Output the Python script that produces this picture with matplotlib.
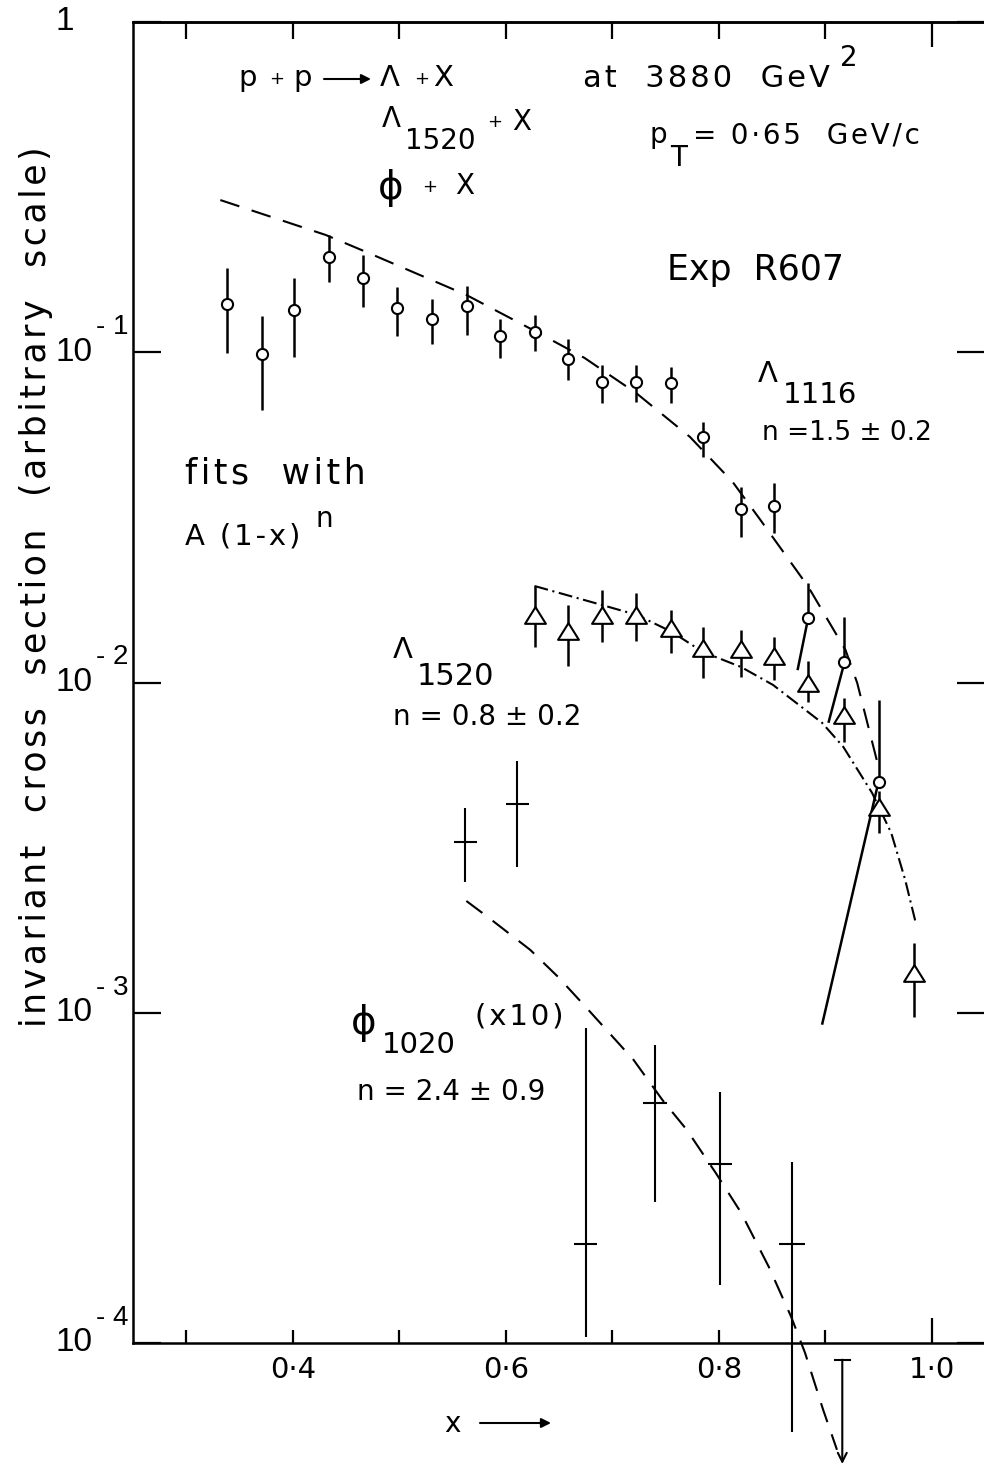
import matplotlib
matplotlib.use('Agg')
import matplotlib.pyplot as plt
from matplotlib.collections import LineCollection
from matplotlib.ticker import FixedLocator, FixedFormatter, NullLocator

W, H = 984, 1467

# Lambda(1116) + X, open circles
lam_x = [0.338, 0.371, 0.401, 0.434, 0.466, 0.498, 0.531, 0.564, 0.595, 0.627,
         0.658, 0.690, 0.722, 0.755, 0.785, 0.821, 0.852, 0.884, 0.918, 0.950]
lam_y = [0.140, 0.0988, 0.134, 0.194, 0.168, 0.136, 0.126, 0.138, 0.112, 0.115,
         0.0954, 0.0813, 0.0813, 0.0807, 0.0554, 0.0335, 0.0342, 0.0157, 0.0115, 0.0050]
lam_hi = [0.180, 0.129, 0.168, 0.227, 0.197, 0.158, 0.145, 0.159, 0.126, 0.130,
          0.110, 0.0915, 0.0915, 0.0904, 0.0616, 0.0392, 0.0401, 0.0200, 0.0158, 0.00886]
lam_lo = [0.0993, 0.0669, 0.0970, 0.1635, 0.1374, 0.1120, 0.1059, 0.1128, 0.0959, 0.1011,
          0.0824, 0.0701, 0.0709, 0.0701, 0.0483, 0.0276, 0.0283, 0.0109, 0.00755, 0.00092]
# x of the lower end of each bar (last three are drawn slanted in the original)
lam_lo_x = [0.338, 0.371, 0.401, 0.434, 0.466, 0.498, 0.531, 0.564, 0.595, 0.627,
            0.658, 0.690, 0.722, 0.755, 0.785, 0.821, 0.852, 0.874, 0.903, 0.897]

# Lambda(1520) + X, open triangles
l15_x = [0.627, 0.658, 0.690, 0.722, 0.755, 0.785, 0.821, 0.852, 0.884, 0.918, 0.950, 0.983]
l15_y = [0.0160, 0.0143, 0.0160, 0.0160, 0.0146, 0.0127, 0.0126, 0.0120, 0.0100, 0.0080, 0.0042, 0.00132]
l15_hi = [0.0196, 0.0172, 0.0191, 0.0187, 0.0166, 0.0147, 0.0144, 0.0137, 0.0116, 0.0090, 0.0047, 0.00163]
l15_lo = [0.0128, 0.0112, 0.0133, 0.0134, 0.0123, 0.0103, 0.0104, 0.0102, 0.0087, 0.0066, 0.0035, 0.00097]

# phi(1020) + X (x10), crosses
phi_x = [0.562, 0.611, 0.675, 0.740, 0.801, 0.869]
phi_dx = [0.011, 0.011, 0.011, 0.011, 0.011, 0.012]
phi_y = [0.00330, 0.00428, 0.000200, 0.000532, 0.000349, 0.000200]
phi_hi = [0.00417, 0.00579, 0.00090, 0.00080, 0.000576, 0.000354]
phi_lo = [0.00249, 0.00276, 0.000104, 0.000268, 0.000150, 0.0000538]
phi_lim_x = 0.916
phi_lim_top = 8.9e-5
phi_lim_tip = 4.3e-5

# fitted curves A(1-x)^n
fit1116_x = [0.332, 0.431, 0.469, 0.563, 0.629, 0.674, 0.723, 0.773, 0.813, 0.839,
             0.884, 0.919, 0.930, 0.950]
fit1116_y = [0.289, 0.2265, 0.2012, 0.1491, 0.1152, 0.0961, 0.0750, 0.0554, 0.0405, 0.0311,
             0.0195, 0.01255, 0.00997, 0.00555]
fit1520_x = [0.627, 0.690, 0.723, 0.756, 0.785, 0.821, 0.851, 0.897, 0.917, 0.944,
             0.962, 0.975, 0.985]
fit1520_y = [0.0196, 0.01718, 0.01602, 0.01423, 0.01238, 0.01114, 0.00983, 0.00755, 0.00638,
             0.00463, 0.0035, 0.00253, 0.00187]
fit1020_x = [0.563, 0.584, 0.623, 0.649, 0.675, 0.720, 0.747, 0.770, 0.797, 0.821,
             0.847, 0.868, 0.881, 0.898, 0.911]
fit1020_y = [0.00218, 0.00194, 0.00155, 0.001285, 0.001042, 0.00072, 0.000545, 0.000442,
             0.000328, 0.000248, 0.00017, 0.00012, 9.34e-5, 6.28e-5, 4.75e-5]

xt_minor = [0.3, 0.4, 0.5, 0.6, 0.7, 0.8, 0.9]
xt_minor_lab = ['', '0·4', '', '0·6', '', '0·8', '']
xt_major = [1.0]
xt_major_lab = ['1·0']
yt = [1e-4, 1e-3, 1e-2, 1e-1, 1]
yt_base = ['10', '10', '10', '10', '1']
yt_exp = ['- 4', '- 3', '- 2', '- 1', '']

plt.rcParams['font.family'] = ['DejaVu Sans']
lab_font = ['Liberation Sans', 'DejaVu Sans']


def spaced(s, n=1):
    return ('\u200a' * n).join(s)


fig = plt.figure(figsize=(W / 100, H / 100), dpi=100)
ax = fig.add_axes([133 / W, 124 / H, 852 / W, 1321 / H])
ax.set_yscale('log')
ax.set_xlim(0.25, 1.05)
ax.set_ylim(1e-4, 1)
for s in ax.spines.values():
    s.set_linewidth(1.8)

ax.yaxis.set_major_locator(FixedLocator(yt))
ax.yaxis.set_minor_locator(NullLocator())
ax.tick_params(axis='y', which='major', direction='in', length=20, width=1.6,
               left=True, right=True, labelleft=False)
ax.xaxis.set_major_locator(FixedLocator(xt_major))
ax.xaxis.set_minor_locator(FixedLocator(xt_minor))
ax.xaxis.set_major_formatter(FixedFormatter(xt_major_lab))
ax.xaxis.set_minor_formatter(FixedFormatter(xt_minor_lab))
ax.tick_params(axis='x', which='major', direction='in', length=18, width=1.6,
               top=False, labelsize=21, pad=9)
ax.tick_params(axis='x', which='minor', direction='in', length=9.5, width=1.6,
               top=False, labelsize=21, pad=9)

top = ax.secondary_xaxis('top')
top.xaxis.set_major_locator(FixedLocator(xt_major))
top.xaxis.set_minor_locator(FixedLocator(xt_minor))
top.tick_params(which='major', direction='in', length=18, width=1.6, labeltop=False)
top.tick_params(which='minor', direction='in', length=12, width=1.6, labeltop=False)
top.spines['top'].set_linewidth(1.8)

# y tick labels 10^-n drawn by hand so the exponent is as big as in the original
for v, b, e in zip(yt, yt_base, yt_exp):
    ax.annotate(b, xy=(0, v), xycoords=('axes fraction', 'data'), xytext=(-56, -6),
                textcoords='offset points', fontsize=24, family=lab_font,
                ha='left', va='baseline', annotation_clip=False)
    if e:
        ax.annotate(e, xy=(0, v), xycoords=('axes fraction', 'data'), xytext=(-27, 13),
                    textcoords='offset points', fontsize=20, family=lab_font,
                    ha='left', va='baseline', annotation_clip=False)

# fits
ax.plot(fit1116_x, fit1116_y, color='k', lw=1.5, ls=(0, (9.6, 6.2)))
ax.plot(fit1520_x, fit1520_y, color='k', lw=1.5, ls=(0, (6.7, 2.2, 1.0, 2.2)))
ax.plot(fit1020_x, fit1020_y, color='k', lw=1.5, ls=(0, (9.6, 6.2)), clip_on=False)

# Lambda(1116) bars and circles
segs = []
for x, y, hi, lo, xl in zip(lam_x, lam_y, lam_hi, lam_lo, lam_lo_x):
    segs.append([(x, y), (x, hi)])
    segs.append([(x, y), (xl, lo)])
ax.add_collection(LineCollection(segs, colors='k', linewidths=1.8, zorder=2))
ax.plot(lam_x, lam_y, 'o', ms=8, mfc='white', mec='k', mew=1.5, zorder=3)

# Lambda(1520) bars and triangles
tri = [(0, 0.8), (-1, -0.8), (1, -0.8), (0, 0.8)]
segs = [[(x, lo), (x, hi)] for x, lo, hi in zip(l15_x, l15_lo, l15_hi)]
ax.add_collection(LineCollection(segs, colors='k', linewidths=1.8, zorder=2))
ax.plot(l15_x, l15_y, ls='none', marker=tri, ms=15, mfc='white', mec='k', mew=1.5, zorder=4)

# phi(1020) crosses
segs = []
for x, dx, y, hi, lo in zip(phi_x, phi_dx, phi_y, phi_hi, phi_lo):
    segs.append([(x, lo), (x, hi)])
    segs.append([(x - dx, y), (x + dx, y)])
ax.add_collection(LineCollection(segs, colors='k', linewidths=1.5, zorder=2, clip_on=False))
ax.plot([phi_lim_x - 0.0068, phi_lim_x + 0.0068], [phi_lim_top, phi_lim_top],
        color='k', lw=1.5, clip_on=False)
ax.annotate('', xy=(phi_lim_x, phi_lim_tip), xytext=(phi_lim_x, phi_lim_top),
            arrowprops=dict(arrowstyle='->', color='k', lw=1.5, mutation_scale=16,
                            shrinkA=0, shrinkB=0), annotation_clip=False)


# ---- text, placed in image pixels (y from the top) ----
def put(x, y, s, fs, **kw):
    fig.text(x / W, 1 - y / H, s, fontsize=fs, ha='left', va='baseline', **kw)


def arrow(x0, x1, y):
    ax.annotate('', xy=(x1, H - y), xytext=(x0, H - y), xycoords='figure pixels',
                arrowprops=dict(arrowstyle='-|>', color='k', lw=1.5, mutation_scale=14,
                                shrinkA=0, shrinkB=0))


put(238, 86, 'p', 21)
put(269, 84, '+', 13)
put(293, 86, 'p', 21)
arrow(324, 371, 79)
put(380, 86, 'Λ', 21)
put(414, 84, '+', 13)
put(433, 86, 'X', 21)
put(583, 87, spaced('at  3880  GeV'), 22)
put(840, 66, '2', 20)

put(382, 127, 'Λ', 20)
put(405, 149, '1520', 20)
put(487, 127, '+', 13)
put(512, 130, 'X', 20)

put(378, 199, 'ϕ', 28)
put(422, 192, '+', 13)
put(455, 194, 'X', 20)

put(649, 143, 'p', 20)
put(670, 166, 'T', 20)
put(693, 143, spaced('= 0·65  GeV/c'), 20)

put(667, 280, 'Exp  R607', 25)

put(758, 382, 'Λ', 21)
put(783, 403, '1116', 21)
put(762, 440, 'n =1.5 ± 0.2', 19)

put(185, 483, spaced('fits  with'), 25)
put(185, 545, spaced('A (1-x)'), 21)
put(315, 527, 'n', 20)

put(393, 658, 'Λ', 21)
put(417, 685, '1520', 22)
put(393, 725, 'n = 0.8 ± 0.2', 20)

put(351, 1034, 'ϕ', 28)
put(382, 1053, '1020', 21)
put(475, 1024, spaced('(x10)'), 21)
put(357, 1100, 'n = 2.4 ± 0.9', 20)

put(444, 1432, 'x', 20)
arrow(480, 551, 1423)

fig.text(36 / W, 1 - 587 / H, spaced('invariant  cross  section  (arbitrary  scale)'),
         fontsize=25, rotation=90, ha='center', va='center')

fig.savefig('out.png', dpi=100)
